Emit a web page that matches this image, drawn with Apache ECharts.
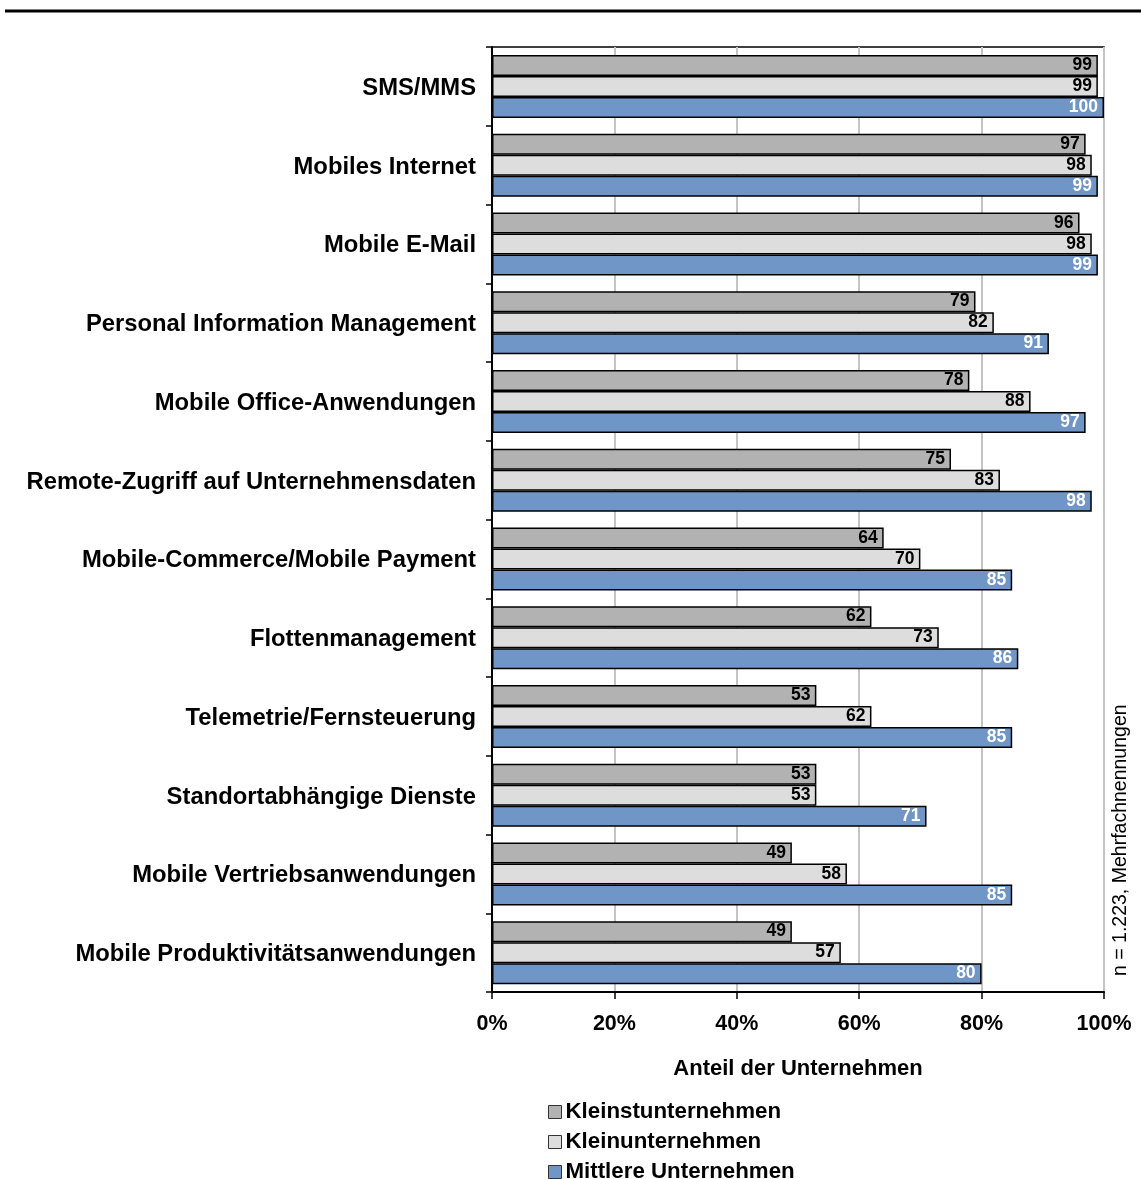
<!DOCTYPE html>
<html>
<head>
<meta charset="utf-8">
<script src="https://cdn.jsdelivr.net/npm/echarts@6/dist/echarts.min.js"></script>
<style>
  html, body { margin: 0; padding: 0; background: #fff; }
  #chart { width: 1141px; height: 1179px; }
</style>
</head>
<body>
<div id="chart"></div>
<script>
// Nutzung mobiler Anwendungen nach Unternehmensgröße (Anteil in %)
const categories = [
  'SMS/MMS',
  'Mobiles Internet',
  'Mobile E-Mail',
  'Personal Information Management',
  'Mobile Office-Anwendungen',
  'Remote-Zugriff auf Unternehmensdaten',
  'Mobile-Commerce/Mobile Payment',
  'Flottenmanagement',
  'Telemetrie/Fernsteuerung',
  'Standortabhängige Dienste',
  'Mobile Vertriebsanwendungen',
  'Mobile Produktivitätsanwendungen'
];
const kleinst = [99, 97, 96, 79, 78, 75, 64, 62, 53, 53, 49, 49];
const klein   = [99, 98, 98, 82, 88, 83, 70, 73, 62, 53, 58, 57];
const mittel  = [100, 99, 99, 91, 97, 98, 85, 86, 85, 71, 85, 80];
const seriesNames = ['Kleinstunternehmen', 'Kleinunternehmen', 'Mittlere Unternehmen'];
const xTicks = [0, 20, 40, 60, 80, 100];

const FONT = '"Liberation Sans", Arial, Helvetica, sans-serif';

function barSeries(name, data, color, labelColor) {
  return {
    name: name,
    type: 'bar',
    data: data,
    barWidth: 21,
    barGap: '0%',
    itemStyle: { color: color, borderColor: '#000', borderWidth: 1.5 },
    label: {
      show: true,
      position: 'insideRight',
      distance: 6,
      color: labelColor,
      fontFamily: FONT,
      fontWeight: 'bold',
      fontSize: 17.5
    },
    emphasis: { disabled: true }
  };
}

// one legend block per series so the entries stack in a single column
const legendTops = [1096, 1126, 1156];
const legends = seriesNames.map((n, i) => ({
  orient: 'vertical',
  left: 543,
  top: legendTops[i],
  itemWidth: 13,
  itemHeight: 13,
  icon: 'rect',
  data: [n],
  selectedMode: false,
  textStyle: { fontFamily: FONT, fontWeight: 'bold', fontSize: 22.3, color: '#000', padding: [0, 0, 0, -1] },
  itemStyle: { borderColor: '#333', borderWidth: 1 }
}));

const chart = echarts.init(document.getElementById('chart'), null, { renderer: 'canvas' });
chart.setOption({
  animation: false,
  backgroundColor: '#fff',
  grid: {
    left: 492, right: 37, top: 47, bottom: 187,
    show: true, borderColor: '#000', borderWidth: 1.5, backgroundColor: 'transparent'
  },
  xAxis: {
    type: 'value',
    min: xTicks[0],
    max: xTicks[xTicks.length - 1],
    interval: 20,
    name: 'Anteil der Unternehmen',
    nameLocation: 'middle',
    nameGap: 66,
    nameTextStyle: { fontFamily: FONT, fontWeight: 'bold', fontSize: 22, color: '#000' },
    axisLine: { show: true, lineStyle: { color: '#000', width: 2 } },
    axisTick: { show: true, length: 7, lineStyle: { color: '#000', width: 1.5 } },
    axisLabel: {
      formatter: '{value}%', margin: 21,
      fontFamily: FONT, fontWeight: 'bold', fontSize: 21.5, color: '#000'
    },
    splitLine: { show: true, lineStyle: { color: '#c4c4c4', width: 2 } }
  },
  yAxis: {
    type: 'category',
    data: categories,
    inverse: true,
    axisLine: { show: true, lineStyle: { color: '#000', width: 2 } },
    axisTick: { show: true, length: 6, lineStyle: { color: '#000', width: 1.5 } },
    axisLabel: {
      margin: 16,
      formatter: v => '{c|' + v + '}',
      rich: {
        c: {
          padding: [4, 0, 0, 0],
          fontFamily: FONT, fontWeight: 'bold', fontSize: 23.8, color: '#000'
        }
      },
      fontFamily: FONT, fontWeight: 'bold', fontSize: 23.8, color: '#000'
    },
    splitLine: { show: false }
  },
  legend: legends,
  graphic: [
    {
      type: 'line',
      shape: { x1: 5, y1: 11, x2: 1141, y2: 11 },
      style: { stroke: '#000', lineWidth: 3 }
    },
    {
      type: 'text',
      x: 1121,
      y: 976,
      rotation: Math.PI / 2,
      style: {
        text: 'n = 1.223, Mehrfachnennungen',
        fontFamily: FONT,
        fontSize: 19.5,
        fill: '#000',
        textAlign: 'left',
        textVerticalAlign: 'middle'
      }
    }
  ],
  series: [
    barSeries(seriesNames[0], kleinst, '#b2b2b2', '#000'),
    barSeries(seriesNames[1], klein, '#dddddd', '#000'),
    barSeries(seriesNames[2], mittel, '#6f96c6', '#fff')
  ]
});
</script>
</body>
</html>
